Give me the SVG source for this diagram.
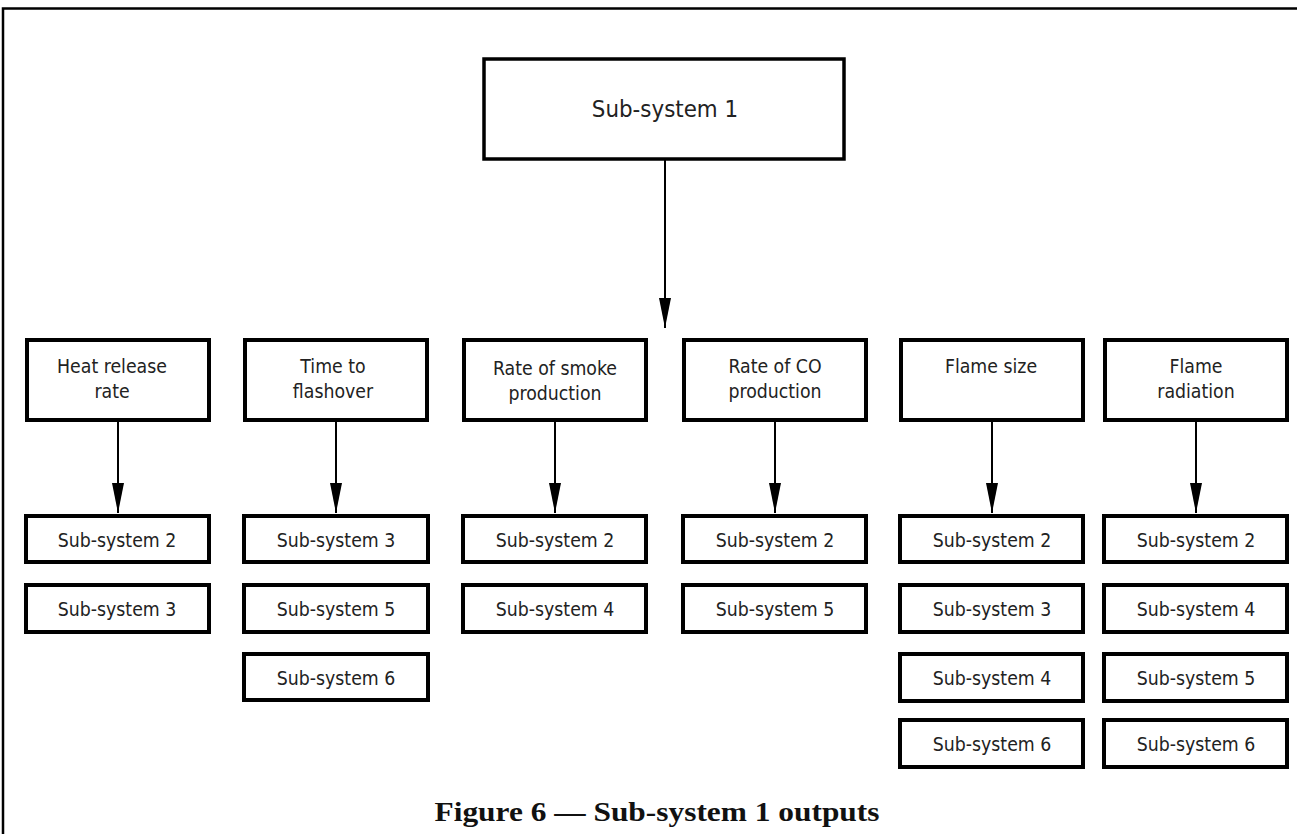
<svg xmlns="http://www.w3.org/2000/svg" width="1297" height="834" viewBox="0 0 1297 834">
<style>
.box{fill:#fff;stroke:#000;stroke-width:4}
.top{fill:#fff;stroke:#000;stroke-width:3.5}
.t{font-family:"DejaVu Sans Condensed","DejaVu Sans",sans-serif;font-size:19.3px;fill:#222;text-anchor:middle}
.tb{font-family:"DejaVu Sans Condensed","DejaVu Sans",sans-serif;font-size:23.8px;fill:#222;text-anchor:middle}
.cap{font-family:"Liberation Serif",serif;font-weight:bold;font-size:27px;fill:#111;text-anchor:middle}
.c{stroke:#000;stroke-width:2;fill:none;marker-end:url(#ah)}
</style>
<defs>
<marker id="ah" markerWidth="30" markerHeight="12" refX="30" refY="6" orient="auto" markerUnits="userSpaceOnUse" viewBox="0 0 30 12">
<path d="M0,0 L30,6 L0,12 Z" fill="#000"/>
</marker>
</defs>
<rect x="0" y="0" width="1297" height="834" fill="#fff"/>
<path d="M3,834 V8.5 H1297" fill="none" stroke="#000" stroke-width="2.5"/>
<g id="connectors">
<line class="c" x1="665" y1="160" x2="665" y2="328"/>
<line class="c" x1="118" y1="421" x2="118" y2="513"/>
<line class="c" x1="336" y1="421" x2="336" y2="513"/>
<line class="c" x1="555" y1="421" x2="555" y2="513"/>
<line class="c" x1="775" y1="421" x2="775" y2="513"/>
<line class="c" x1="992" y1="421" x2="992" y2="513"/>
<line class="c" x1="1196" y1="421" x2="1196" y2="513"/>
</g>
<g id="n-ss1"><rect class="top" x="484" y="59" width="360" height="100"/><text class="tb" x="665" y="117">Sub-system 1</text></g>
<g id="n-hrr"><rect class="box" x="27" y="340" width="182" height="80"/><text class="t" x="112" y="373">Heat release</text><text class="t" x="112" y="398">rate</text></g>
<g id="n-ttf"><rect class="box" x="245" y="340" width="182" height="80"/><text class="t" x="333" y="373">Time to</text><text class="t" x="333" y="398">flashover</text></g>
<g id="n-rsp"><rect class="box" x="464" y="340" width="182" height="80"/><text class="t" x="555" y="375">Rate of smoke</text><text class="t" x="555" y="400">production</text></g>
<g id="n-rco"><rect class="box" x="684" y="340" width="182" height="80"/><text class="t" x="775" y="373">Rate of CO</text><text class="t" x="775" y="398">production</text></g>
<g id="n-fs"><rect class="box" x="901" y="340" width="182" height="80"/><text class="t" x="991" y="373">Flame size</text></g>
<g id="n-fr"><rect class="box" x="1105" y="340" width="182" height="80"/><text class="t" x="1196" y="373">Flame</text><text class="t" x="1196" y="398">radiation</text></g>

<g id="c1-2"><rect class="box" x="26" y="516" width="183" height="46"/><text class="t" x="117" y="547">Sub-system 2</text></g>
<g id="c1-3"><rect class="box" x="26" y="585" width="183" height="47"/><text class="t" x="117" y="616">Sub-system 3</text></g>

<g id="c2-3"><rect class="box" x="244" y="516" width="184" height="46"/><text class="t" x="336" y="547">Sub-system 3</text></g>
<g id="c2-5"><rect class="box" x="244" y="585" width="184" height="47"/><text class="t" x="336" y="616">Sub-system 5</text></g>
<g id="c2-6"><rect class="box" x="244" y="654" width="184" height="46"/><text class="t" x="336" y="685">Sub-system 6</text></g>

<g id="c3-2"><rect class="box" x="463" y="516" width="183" height="46"/><text class="t" x="555" y="547">Sub-system 2</text></g>
<g id="c3-4"><rect class="box" x="463" y="585" width="183" height="47"/><text class="t" x="555" y="616">Sub-system 4</text></g>

<g id="c4-2"><rect class="box" x="683" y="516" width="183" height="46"/><text class="t" x="775" y="547">Sub-system 2</text></g>
<g id="c4-5"><rect class="box" x="683" y="585" width="183" height="47"/><text class="t" x="775" y="616">Sub-system 5</text></g>

<g id="c5-2"><rect class="box" x="900" y="516" width="183" height="46"/><text class="t" x="992" y="547">Sub-system 2</text></g>
<g id="c5-3"><rect class="box" x="900" y="585" width="183" height="47"/><text class="t" x="992" y="616">Sub-system 3</text></g>
<g id="c5-4"><rect class="box" x="900" y="654" width="183" height="47"/><text class="t" x="992" y="685">Sub-system 4</text></g>
<g id="c5-6"><rect class="box" x="900" y="720" width="183" height="47"/><text class="t" x="992" y="751">Sub-system 6</text></g>

<g id="c6-2"><rect class="box" x="1104" y="516" width="183" height="46"/><text class="t" x="1196" y="547">Sub-system 2</text></g>
<g id="c6-4"><rect class="box" x="1104" y="585" width="183" height="47"/><text class="t" x="1196" y="616">Sub-system 4</text></g>
<g id="c6-5"><rect class="box" x="1104" y="654" width="183" height="47"/><text class="t" x="1196" y="685">Sub-system 5</text></g>
<g id="c6-6"><rect class="box" x="1104" y="720" width="183" height="47"/><text class="t" x="1196" y="751">Sub-system 6</text></g>

<text class="cap" x="657" y="821" textLength="445" lengthAdjust="spacingAndGlyphs">Figure 6 — Sub-system 1 outputs</text>
</svg>
